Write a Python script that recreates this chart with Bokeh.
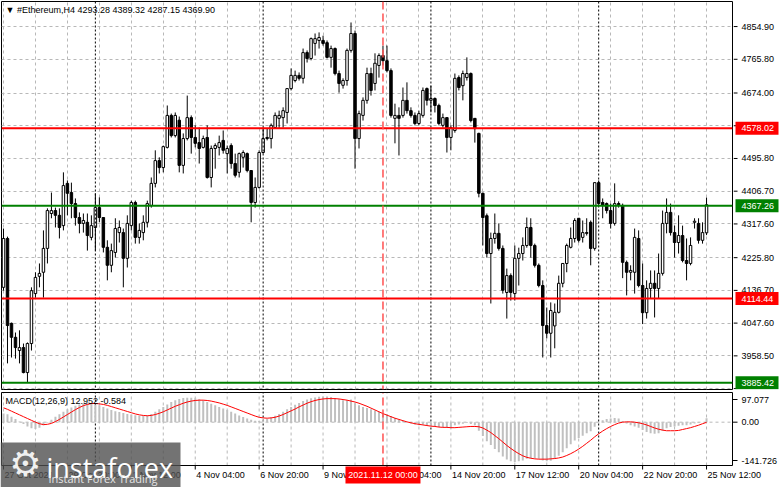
from bokeh.plotting import figure
from bokeh.layouts import column, row
from bokeh.models import FixedTicker, Span, Label, Range1d, Grid
from bokeh.core.properties import value
from bokeh.embed import file_html
from bokeh.resources import INLINE

# ---------------- data ----------------
opens = [4145, 4278, 4047, 4009, 3973, 3981, 3913, 3992, 4128, 4175,
         4186, 4251, 4346, 4354, 4341, 4313, 4428, 4403, 4373, 4335,
         4319, 4322, 4281, 4308, 4362, 4335, 4254, 4205, 4240, 4294,
         4294, 4224, 4313, 4376, 4281, 4294, 4322, 4368, 4428, 4490,
         4471, 4526, 4613, 4558, 4600, 4477, 4550, 4607, 4553, 4539,
         4526, 4553, 4444, 4523, 4526, 4545, 4509, 4531, 4482, 4458,
         4499, 4509, 4463, 4376, 4417, 4512, 4553, 4550, 4580, 4605,
         4607, 4621, 4686, 4708, 4722, 4714, 4784, 4768, 4809, 4817,
         4817, 4811, 4771, 4795, 4727, 4695, 4708, 4790, 4836, 4550,
         4613, 4654, 4727, 4700, 4749, 4776, 4762, 4735, 4605, 4613,
         4613, 4654, 4626, 4613, 4591, 4613, 4686, 4654, 4659, 4640,
         4586, 4607, 4553, 4572, 4716, 4694, 4716, 4727, 4605, 4564,
         4401, 4340, 4237, 4278, 4292, 4251, 4131, 4177, 4128, 4224,
         4237, 4259, 4308, 4259, 4205, 4150, 4041, 4020, 4040, 4077,
         4156, 4210, 4254, 4278, 4333, 4281, 4294, 4322, 4251, 4430,
         4376, 4373, 4354, 4319, 4373, 4368, 4213, 4186, 4186, 4278,
         4150, 4076, 4142, 4156, 4142, 4183, 4319, 4349, 4294, 4267,
         4286, 4218, 4210, 4322, 4319, 4273, 4293.28]
highs = [4305, 4283, 4049, 4022, 4028, 3992, 3995, 4145, 4186, 4210,
         4300, 4360, 4403, 4362, 4360, 4458, 4436, 4430, 4387, 4349,
         4346, 4346, 4341, 4401, 4390, 4335, 4273, 4264, 4333, 4327,
         4305, 4341, 4381, 4381, 4319, 4341, 4381, 4444, 4518, 4499,
         4531, 4640, 4618, 4621, 4610, 4564, 4667, 4613, 4586, 4580,
         4558, 4586, 4531, 4537, 4558, 4572, 4531, 4537, 4509, 4512,
         4518, 4512, 4463, 4444, 4518, 4580, 4577, 4591, 4621, 4626,
         4635, 4686, 4741, 4735, 4730, 4795, 4790, 4825, 4836, 4839,
         4830, 4817, 4803, 4798, 4735, 4714, 4795, 4866, 4844, 4626,
         4662, 4743, 4743, 4782, 4782, 4803, 4803, 4741, 4645, 4635,
         4689, 4703, 4635, 4621, 4626, 4689, 4689, 4694, 4662, 4645,
         4618, 4607, 4586, 4727, 4722, 4735, 4771, 4730, 4605, 4566,
         4403, 4346, 4294, 4346, 4319, 4259, 4196, 4183, 4259, 4253,
         4281, 4335, 4333, 4264, 4210, 4164, 4090, 4104, 4101, 4177,
         4210, 4264, 4308, 4333, 4333, 4327, 4333, 4327, 4430, 4436,
         4387, 4376, 4373, 4428, 4379, 4373, 4218, 4205, 4305, 4300,
         4210, 4164, 4191, 4191, 4237, 4354, 4387, 4373, 4313, 4341,
         4313, 4278, 4281, 4333, 4333, 4322, 4389.32]
lows = [4136, 3938, 3954, 3951, 3938, 3911, 3886, 3973, 4117, 4145,
        4117, 4210, 4333, 4308, 4278, 4300, 4341, 4333, 4313, 4292,
        4294, 4245, 4273, 4245, 4322, 4240, 4164, 4186, 4226, 4267,
        4145, 4199, 4300, 4264, 4264, 4273, 4308, 4362, 4417, 4455,
        4458, 4523, 4553, 4553, 4458, 4455, 4545, 4509, 4526, 4482,
        4523, 4441, 4417, 4468, 4504, 4509, 4455, 4468, 4444, 4444,
        4471, 4458, 4322, 4362, 4414, 4509, 4545, 4523, 4577, 4577,
        4580, 4591, 4681, 4703, 4708, 4700, 4757, 4763, 4776, 4795,
        4803, 4768, 4743, 4722, 4675, 4686, 4694, 4784, 4468, 4523,
        4599, 4645, 4667, 4681, 4716, 4749, 4730, 4607, 4537, 4504,
        4607, 4618, 4607, 4586, 4586, 4607, 4640, 4621, 4621, 4586,
        4580, 4512, 4518, 4566, 4681, 4654, 4708, 4594, 4539, 4390,
        4259, 4226, 4101, 4264, 4245, 4128, 4060, 4109, 4109, 4150,
        4218, 4253, 4226, 4199, 4145, 3954, 4006, 3954, 3979, 4074,
        4145, 4186, 4251, 4267, 4267, 4267, 4286, 4205, 4245, 4368,
        4333, 4346, 4305, 4313, 4362, 4170, 4123, 4164, 4128, 4145,
        4045, 4060, 4115, 4063, 4115, 4177, 4292, 4286, 4226, 4237,
        4213, 4164, 4205, 4305, 4264, 4264, 4287.15]
closes = [4278, 4041, 4009, 3981, 3981, 3913, 3992, 4136, 4172, 4183,
          4251, 4354, 4354, 4341, 4308, 4422, 4401, 4373, 4335, 4319,
          4327, 4286, 4313, 4362, 4335, 4254, 4205, 4245, 4305, 4308,
          4224, 4319, 4376, 4281, 4300, 4322, 4373, 4428, 4490, 4471,
          4528, 4613, 4558, 4613, 4477, 4550, 4607, 4553, 4537, 4523,
          4550, 4444, 4523, 4531, 4539, 4518, 4523, 4482, 4450, 4509,
          4512, 4463, 4376, 4417, 4512, 4550, 4550, 4586, 4613, 4613,
          4626, 4686, 4722, 4722, 4714, 4784, 4768, 4822, 4822, 4825,
          4809, 4771, 4795, 4727, 4700, 4708, 4790, 4836, 4550, 4618,
          4654, 4727, 4681, 4755, 4776, 4762, 4735, 4613, 4613, 4605,
          4654, 4626, 4613, 4591, 4618, 4681, 4654, 4659, 4640, 4591,
          4607, 4553, 4580, 4714, 4689, 4727, 4727, 4599, 4577, 4401,
          4335, 4237, 4278, 4292, 4251, 4137, 4177, 4131, 4224, 4237,
          4259, 4308, 4259, 4205, 4150, 4041, 4020, 4082, 4077, 4156,
          4210, 4259, 4278, 4327, 4273, 4294, 4292, 4251, 4430, 4373,
          4368, 4354, 4319, 4373, 4370, 4213, 4186, 4191, 4281, 4150,
          4076, 4142, 4156, 4142, 4183, 4319, 4349, 4294, 4267, 4286,
          4218, 4210, 4259, 4325, 4273, 4294, 4369.90]

macd_hist = [28, 26, 18, 10, 2, -6, -14, -20, -22, -18,
             -10, -2, 8, 18, 26, 34, 42, 48, 54, 58,
             61, 62, 61, 58, 55, 50, 45, 40, 36, 33,
             30, 27, 25, 23, 21, 20, 22, 27, 34, 42,
             50, 58, 66, 72, 76, 79, 80, 80, 78, 75,
             71, 66, 60, 55, 50, 45, 40, 34, 28, 22,
             17, 12, 8, 5, 4, 6, 10, 15, 21, 27,
             34, 42, 50, 57, 63, 69, 74, 78, 81, 83,
             84, 84, 82, 79, 75, 72, 72, 74, 62, 55,
             50, 46, 42, 38, 34, 30, 26, 20, 14, 8,
             4, 0, -4, -8, -10, -8, -10, -12, -14, -16,
             -16, -18, -17, -10, -8, -5, -3, -6, -10, -28,
             -45, -62, -75, -88, -98, -112, -122, -128, -130, -128,
             -125, -120, -118, -118, -120, -125, -128, -126, -120, -110,
             -98, -85, -72, -60, -52, -44, -36, -30, -15, -2,
             6, 10, 12, 14, 12, 4, -4, -10, -14, -18,
             -26, -32, -36, -38, -36, -28, -20, -16, -14, -12,
             -10, -10, -8, -4, -3, 0, 12.952]
macd_signal = [47, 42, 36, 30, 24, 18, 12, 6, 0, -5,
               -8, -7, -4, 2, 9, 17, 25, 33, 41, 48,
               54, 58, 61, 61, 60, 58, 55, 51, 47, 43,
               39, 35, 31, 27, 24, 22, 21, 22, 25, 29,
               34, 40, 46, 52, 57, 62, 66, 69, 71, 72,
               72, 71, 69, 66, 63, 59, 55, 50, 45, 40,
               35, 30, 25, 20, 16, 14, 13, 14, 16, 20,
               25, 31, 37, 43, 50, 56, 62, 67, 71, 74,
               76, 77, 77, 77, 76, 74, 72, 69, 66, 62,
               57, 52, 46, 40, 34, 28, 23, 18, 13, 9,
               5, 1, -2, -5, -7, -9, -11, -13, -14, -16,
               -17, -17, -18, -18, -17, -16, -15, -14, -14, -15,
               -19, -26, -34, -44, -54, -65, -76, -86, -95, -103,
               -110, -115, -118, -120, -121, -121, -121, -120, -119, -117,
               -114, -109, -103, -96, -88, -79, -69, -59, -48, -38,
               -29, -21, -14, -8, -3, 0, 1, 1, 0, -2,
               -5, -9, -14, -19, -23, -26, -28, -28, -28, -27,
               -24, -21, -18, -14, -10, -5, -0.584]

price_ticks = [4854.90, 4765.80, 4674.00, 4584.90, 4495.80, 4406.70, 4317.60,
               4225.80, 4136.70, 4047.60, 3958.50, 3869.40]
red_levels = [4578.02, 4114.44]
green_levels = [4367.26, 3885.42]
macd_max, macd_min = 97.077, -141.726
label_bars = [0, 16, 32, 48, 64, 80, 96, 112, 128, 144, 160, 176]
label_texts = ["27 Oct 2021", "29 Oct 20:00", "1 Nov 12:00", "4 Nov 04:00",
               "6 Nov 20:00", "9 Nov 12:00", "12 Nov 04:00", "14 Nov 20:00",
               "17 Nov 12:00", "20 Nov 04:00", "22 Nov 20:00", "25 Nov 12:00"]
grid_bars = list(range(0, 177, 8))
week_bars = [23, 65, 107, 149]
marker_bar = 95
marker_text = "2021.11.12 00:00"
title_text = "\u25bc #Ethereum,H4  4293.28 4389.32 4287.15 4369.90"
macd_text = "MACD(12,26,9) 12.952 -0.584"

# ---------------- layout constants (pixels) ----------------
FRAME_W = 731          # price frame width (cols 1..732)
STRIP_W = 46           # right label strip of price panel
MAIN_H = 388           # price frame height (rows 1..389)
BOT_H = 97             # lower figure: MACD panel + time band
PANEL_TOP, PANEL_BOT = 2, 75   # MACD panel border rows inside lower figure
FONT = "Liberation Sans"
FS = "9px"
GRID_C = "#b8b8b8"
RED = "#ff0000"
GREEN = "#008000"
WM_FILL = "#505050"

N = len(closes)
bars = list(range(N))
X0, X1 = -0.5, 182.5
ppb = FRAME_W / (X1 - X0)                 # pixels per bar
PY_TOP, PY_BOT = 4923.1, 3866.9           # price at top / bottom of frame
ppx = (PY_TOP - PY_BOT) / MAIN_H          # price per pixel
per_px = (macd_max - macd_min) / (PANEL_BOT - PANEL_TOP)


def xc(col):            # lower figure column -> bar coordinate
    return X0 + (col - 1) / ppb


def vy(r):              # lower figure row -> MACD value coordinate
    return macd_max - (r - PANEL_TOP) * per_px


def base_fig(w, h, x_range, y_range, outline=True, lb=0, rb=0, tb=0, bb=0):
    f = figure(frame_width=w, frame_height=h, x_range=x_range, y_range=y_range,
               x_axis_location=None, y_axis_location=None,
               output_backend="svg", toolbar_location=None,
               min_border_left=lb, min_border_right=rb, min_border_top=tb,
               min_border_bottom=bb)
    f.outline_line_color = "black" if outline else None
    f.background_fill_color = "white"
    f.border_fill_color = "white"
    f.xgrid.visible = False
    f.ygrid.visible = False
    return f


# ---------------- price panel ----------------
xr = Range1d(X0, X1)
yr_main = Range1d(PY_BOT, PY_TOP)
p = base_fig(FRAME_W, MAIN_H, xr, yr_main, True, 1, 1, 1, 1)
p.add_layout(Grid(dimension=0, ticker=FixedTicker(ticks=grid_bars),
                  grid_line_color=GRID_C, grid_line_dash="3 3"))
p.add_layout(Grid(dimension=1, ticker=FixedTicker(ticks=price_ticks),
                  grid_line_color=GRID_C, grid_line_dash="3 3"))
for b in week_bars:
    p.add_layout(Span(location=b, dimension="height", line_color="black",
                      line_dash="2 2", line_width=1))
for lv in red_levels:
    p.add_layout(Span(location=lv, dimension="width", line_color=RED, line_width=2))
for lv in green_levels:
    p.add_layout(Span(location=lv, dimension="width", line_color=GREEN, line_width=2))
p.add_layout(Span(location=marker_bar, dimension="height", line_color="#ff5050",
                  line_dash="8 4", line_width=1.5))

p.segment(x0=bars, y0=lows, x1=bars, y1=highs, line_color="black", line_width=1)
bx = [i for i in bars if closes[i] >= opens[i]]
sx = [i for i in bars if closes[i] < opens[i]]
p.vbar(x=bx, width=0.62, top=[closes[i] for i in bx], bottom=[opens[i] for i in bx],
       fill_color="white", line_color="black", line_width=1)
p.vbar(x=sx, width=0.62, top=[opens[i] for i in sx], bottom=[closes[i] for i in sx],
       fill_color="black", line_color="black", line_width=1)

p.add_layout(Label(x=4, y=MAIN_H - 3, x_units="screen", y_units="screen",
                   text=title_text, text_baseline="top", text_font=FONT,
                   text_font_size=FS, text_color="black"))

# right price strip: tick marks, tick labels, level labels
s1 = base_fig(STRIP_W, MAIN_H, Range1d(0, STRIP_W), yr_main, False, 0, 0, 1, 1)
nt = len(price_ticks)
s1.segment(x0=[0] * nt, x1=[4] * nt, y0=price_ticks, y1=price_ticks,
           line_color="black")
lab_y = [max(v, PY_BOT + 6 * ppx) for v in price_ticks]
s1.text(x=[8] * nt, y=lab_y, text=[f"{v:.2f}" for v in price_ticks],
        text_baseline="middle", text_align="left", text_color="black",
        text_font=value(FONT), text_font_size=value(FS))
lv_all = red_levels + green_levels
lv_col = [RED] * len(red_levels) + [GREEN] * len(green_levels)
s1.rect(x=[23.5] * len(lv_all), y=lv_all, width=43, height=13, width_units="screen",
        height_units="screen", fill_color=lv_col, line_color=None)
s1.text(x=[8] * len(lv_all), y=lv_all, text=[f"{v:.2f}" for v in lv_all],
        text_baseline="middle", text_align="left", text_color="white",
        text_font=value(FONT), text_font_size=value(FS))

# ---------------- lower figure: MACD panel + time labels ----------------
TOT_W = FRAME_W + 2 + STRIP_W
q = base_fig(TOT_W, BOT_H, Range1d(xc(0), xc(TOT_W)), Range1d(vy(BOT_H), vy(0)),
             False, 0, 0, 0, 0)
ng = len(grid_bars)
q.segment(x0=grid_bars, x1=grid_bars, y0=[macd_min] * ng, y1=[macd_max] * ng,
          line_color=GRID_C, line_dash="3 3")
q.segment(x0=[X0], x1=[X1], y0=[0], y1=[0], line_color=GRID_C, line_dash="3 3")
nw = len(week_bars)
q.segment(x0=week_bars, x1=week_bars, y0=[macd_min] * nw, y1=[macd_max] * nw,
          line_color="black", line_dash="2 2")
q.vbar(x=bars, width=0.5, top=macd_hist, bottom=0, fill_color="#c0c0c0",
       line_color=None)
q.line(bars, macd_signal, line_color=RED, line_width=1)
q.segment(x0=[marker_bar], x1=[marker_bar], y0=[macd_min], y1=[macd_max],
          line_color="#ff5050", line_dash="8 4", line_width=1.5)
q.quad(left=[X0], right=[X1], bottom=[macd_min], top=[macd_max],
       fill_color=None, line_color="black", line_width=1)
q.text(x=[xc(5)], y=[vy(PANEL_TOP + 3)], text=[macd_text], text_baseline="top",
       text_align="left", text_color="black", text_font=value(FONT),
       text_font_size=value(FS))

# MACD right axis
m_ticks = [vy(9), 0, vy(PANEL_BOT - 5)]
m_labels = [f"{macd_max:.3f}", "0.00", f"{macd_min:.3f}"]
q.segment(x0=[X1] * 3, x1=[xc(737)] * 3, y0=m_ticks, y1=m_ticks, line_color="black")
q.text(x=[xc(741)] * 3, y=m_ticks, text=m_labels, text_baseline="middle",
       text_align="left", text_color="black", text_font=value(FONT),
       text_font_size=value(FS))

# time axis
nl = len(label_bars)
q.segment(x0=label_bars, x1=label_bars, y0=[macd_min] * nl,
          y1=[vy(PANEL_BOT + 4)] * nl, line_color="black")
q.text(x=[b + 1 / ppb for b in label_bars], y=[vy(PANEL_BOT + 9.5)] * nl,
       text=label_texts, text_baseline="middle", text_align="left",
       text_color="black", text_font=value(FONT), text_font_size=value(FS))
q.rect(x=[marker_bar], y=[vy(PANEL_BOT + 9.5)], width=75, height=17,
       width_units="screen", height_units="screen", fill_color=RED, line_color=None)
q.text(x=[marker_bar], y=[vy(PANEL_BOT + 9.5)], text=[marker_text],
       text_baseline="middle", text_align="center", text_color="white",
       text_font=value(FONT), text_font_size=value(FS))

# watermark
q.quad(left=[xc(0)], right=[xc(180)], bottom=[vy(BOT_H)], top=[vy(52)],
       fill_color=WM_FILL, fill_alpha=0.8, line_color=None)
q.text(x=[xc(25)], y=[vy(73)], text=["\u2699"], text_align="center",
       text_baseline="middle", text_font=value("DejaVu Sans"),
       text_font_size=value("36px"), text_color="#f0f0f0")
q.text(x=[xc(46)], y=[vy(77)], text=["instaforex"], text_align="left",
       text_baseline="alphabetic", text_font=value("Open Sans"),
       text_font_size=value("27px"), text_color="white")
q.text(x=[xc(48)], y=[vy(88)], text=["Instant Forex Trading"], text_align="left",
       text_baseline="middle", text_font=value("Open Sans"),
       text_font_size=value("11px"), text_color="#e6e6e6")

layout = column(row(p, s1, spacing=0), q, spacing=0)
open("out.html", "w").write(file_html(layout, INLINE))
